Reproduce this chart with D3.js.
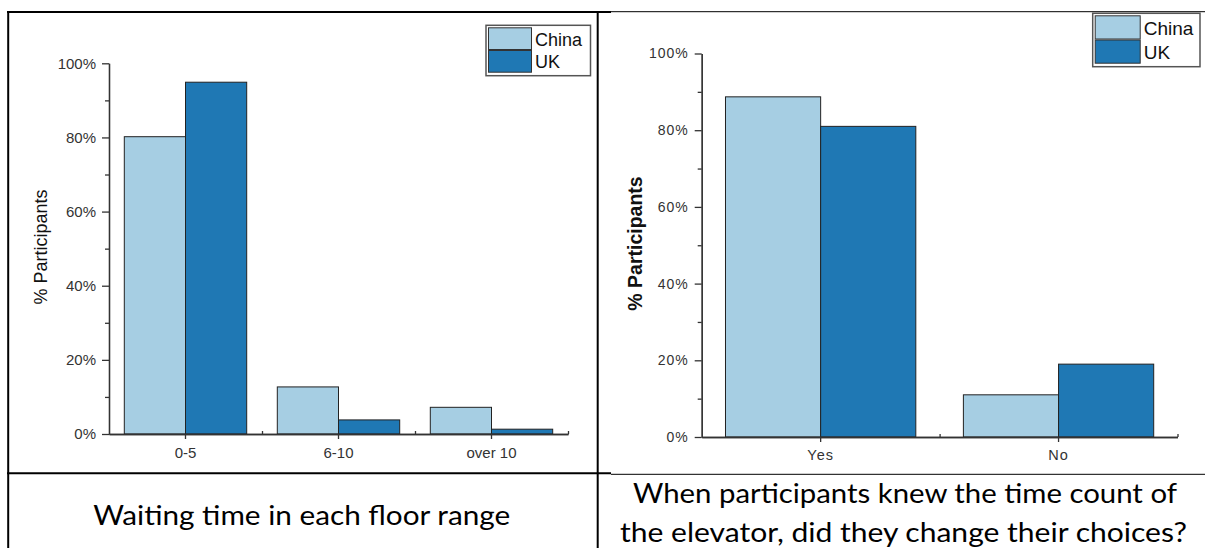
<!DOCTYPE html>
<html>
<head>
<meta charset="utf-8">
<script src="https://cdn.jsdelivr.net/npm/d3@7"></script>
<style>
  body { margin: 0; background: #fff; }
  svg { display: block; }
</style>
</head>
<body>
<div id="chart"></div>
<script>
// data (percent of participants)
const seriesNames = ["China", "UK"];
const seriesColors = ["#a6cee3", "#1f78b4"];

const floorCats = ["0-5", "6-10", "over 10"];
const floorChina = [80.2, 12.7, 7.2];
const floorUK = [94.9, 3.8, 1.3];

const changeCats = ["Yes", "No"];
const changeChina = [88.7, 11.0];
const changeUK = [81.0, 19.0];

const yMajor = [0, 20, 40, 60, 80, 100];
const yMinor = [10, 30, 50, 70, 90];

const captionLeft = "Waiting time in each floor range";
const captionRight = ["When participants knew the time count of", "the elevator, did they change their choices?"];

const W = 1205, H = 548;

const svg = d3.select("#chart")
  .append("svg")
  .attr("width", W)
  .attr("height", H);

// one grouped bar chart
function drawChart(cfg) {
  const g = svg.append("g");
  const rows = cfg.cats.map((c, i) => ({cat: c, vals: [cfg.china[i], cfg.uk[i]]}));

  const x0 = d3.scaleBand()
    .domain(cfg.cats)
    .range([cfg.left, cfg.right])
    .paddingInner(0.2)
    .paddingOuter(0.1);
  const x1 = d3.scaleBand()
    .domain(seriesNames)
    .range([0, x0.bandwidth()]);
  const y = d3.scaleLinear()
    .domain([0, 100])
    .range([cfg.bottom, cfg.top]);
  const color = d3.scaleOrdinal().domain(seriesNames).range(seriesColors);

  // bars
  g.selectAll("g.grp")
    .data(rows)
    .enter()
    .append("g")
    .attr("class", "grp")
    .attr("transform", d => `translate(${x0(d.cat)},0)`)
    .selectAll("rect")
    .data(d => d.vals.map((v, i) => ({key: seriesNames[i], v: v})))
    .enter()
    .append("rect")
    .attr("x", d => x1(d.key))
    .attr("width", x1.bandwidth())
    .attr("y", d => y(d.v))
    .attr("height", d => y(0) - y(d.v))
    .attr("fill", d => color(d.key))
    .attr("stroke", "#222")
    .attr("stroke-width", 1);

  // y axis, major + minor ticks
  const yAx = g.append("g")
    .attr("transform", `translate(${cfg.left},0)`)
    .call(d3.axisLeft(y).tickValues(yMajor).tickSize(7).tickSizeOuter(0).tickPadding(6)
      .tickFormat(d => d + "%"));
  g.append("g")
    .attr("transform", `translate(${cfg.left},0)`)
    .call(d3.axisLeft(y).tickValues(yMinor).tickSize(4).tickSizeOuter(0).tickFormat(""));

  // x axis, labels under category centers
  const xAx = g.append("g")
    .attr("transform", `translate(0,${cfg.bottom})`)
    .call(d3.axisBottom(x0).tickSize(5).tickSizeOuter(0).tickPadding(8));
  // small inward ticks between categories
  const xs = d3.scaleLinear().domain([0, cfg.cats.length]).range([cfg.left, cfg.right]);
  g.append("g")
    .attr("transform", `translate(0,${cfg.bottom})`)
    .call(d3.axisTop(xs).tickValues(d3.range(1, cfg.cats.length + 1)).tickSize(3).tickSizeOuter(0).tickFormat(""));

  g.selectAll(".domain, .tick line")
    .attr("stroke", "#333")
    .attr("stroke-width", 1.3);
  g.selectAll(".tick text")
    .attr("fill", "#333")
    .style("font-family", "'Liberation Sans', Arial, sans-serif");
  yAx.selectAll(".tick text")
    .style("font-size", cfg.tickFont + "px")
    .style("letter-spacing", cfg.spacing + "px");
  xAx.selectAll(".tick text")
    .style("font-size", cfg.xFont + "px")
    .style("letter-spacing", cfg.spacing + "px");

  // y axis title
  g.append("text")
    .attr("transform", `translate(${cfg.titleX},${cfg.titleY}) rotate(-90)`)
    .attr("text-anchor", "middle")
    .style("font-family", "'Liberation Sans', Arial, sans-serif")
    .style("font-size", cfg.titleFont + "px")
    .style("font-weight", cfg.titleWeight)
    .attr("fill", "#111")
    .text("% Participants");

  // legend
  const lg = g.append("g").attr("transform", `translate(${cfg.lgX},${cfg.lgY})`);
  lg.append("rect")
    .attr("width", cfg.lgW)
    .attr("height", cfg.lgH)
    .attr("fill", "#fff")
    .attr("stroke", "#555")
    .attr("stroke-width", 1.5);
  seriesNames.forEach((s, i) => {
    lg.append("rect")
      .attr("x", 2.5)
      .attr("y", 2.5 + i * (cfg.lgH - 5) / 2)
      .attr("width", cfg.swW)
      .attr("height", (cfg.lgH - 5) / 2 - 1)
      .attr("fill", color(s))
      .attr("stroke", "#333")
      .attr("stroke-width", 1);
    lg.append("text")
      .attr("x", cfg.swW + 6)
      .attr("y", 2.5 + i * (cfg.lgH - 5) / 2 + (cfg.lgH - 5) / 4)
      .attr("dy", "0.36em")
      .style("font-family", "'Liberation Sans', Arial, sans-serif")
      .style("font-size", cfg.lgFont + "px")
      .attr("fill", "#111")
      .text(s);
  });
}

drawChart({
  cats: floorCats, china: floorChina, uk: floorUK,
  left: 109, right: 568, top: 63.3, bottom: 434,
  tickFont: 15, xFont: 15, spacing: 0,
  titleX: 46.5, titleY: 247, titleFont: 18, titleWeight: "normal",
  lgX: 486, lgY: 25.3, lgW: 104.5, lgH: 50.4, swW: 43, lgFont: 18
});

drawChart({
  cats: changeCats, china: changeChina, uk: changeUK,
  left: 701.7, right: 1177.5, top: 53.5, bottom: 437,
  tickFont: 14, xFont: 14.5, spacing: 1,
  titleX: 641.5, titleY: 243.5, titleFont: 19.5, titleWeight: "bold",
  lgX: 1092.7, lgY: 13.3, lgW: 107.3, lgH: 53.4, swW: 45, lgFont: 19
});

// table lines
const lines = svg.append("g").attr("stroke", "#000");
lines.append("line").attr("x1", 7).attr("x2", 611).attr("y1", 12).attr("y2", 12).attr("stroke-width", 2);
lines.append("line").attr("x1", 611).attr("x2", W).attr("y1", 11.7).attr("y2", 11.7).attr("stroke-width", 1);
lines.append("line").attr("x1", 7).attr("x2", 611).attr("y1", 473.3).attr("y2", 473.3).attr("stroke-width", 2);
lines.append("line").attr("x1", 611).attr("x2", W).attr("y1", 474.3).attr("y2", 474.3).attr("stroke-width", 1);
lines.append("line").attr("x1", 8.2).attr("x2", 8.2).attr("y1", 11).attr("y2", H).attr("stroke-width", 2);
lines.append("line").attr("x1", 597.7).attr("x2", 597.7).attr("y1", 11).attr("y2", H).attr("stroke-width", 2);

// captions
const capFont = "Lato, 'Open Sans', sans-serif";
svg.append("text")
  .attr("x", 301.7).attr("y", 525)
  .attr("text-anchor", "middle")
  .attr("textLength", 417)
  .attr("lengthAdjust", "spacingAndGlyphs")
  .style("font-family", capFont)
  .style("font-size", "27px")
  .attr("fill", "#000")
  .text(captionLeft);

const capW = [544, 567];
const capX = [905, 903.5];
const capY = [503.3, 541.5];
captionRight.forEach((t, i) => {
  svg.append("text")
    .attr("x", capX[i]).attr("y", capY[i])
    .attr("text-anchor", "middle")
    .attr("textLength", capW[i])
    .attr("lengthAdjust", "spacingAndGlyphs")
    .style("font-family", capFont)
    .style("font-size", "26px")
    .attr("fill", "#000")
    .text(t);
});
</script>
</body>
</html>
